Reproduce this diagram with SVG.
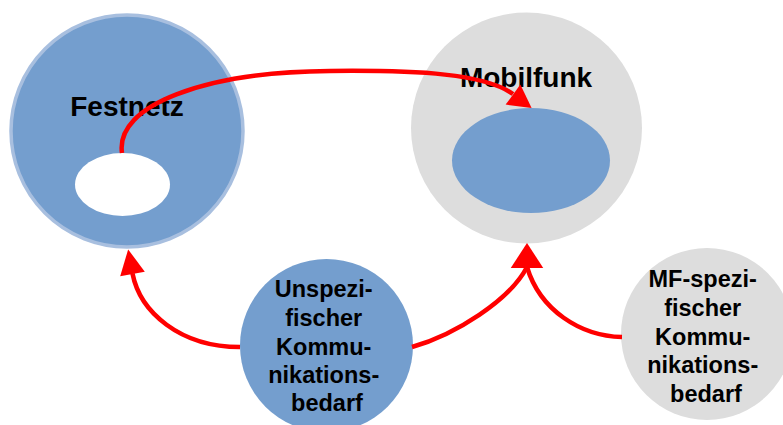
<svg xmlns="http://www.w3.org/2000/svg" xmlns:xlink="http://www.w3.org/1999/xlink" width="783" height="425" viewBox="0 0 783 425">
<style>
  .blue { fill: #749ECE; }
  .gray { fill: #DDDDDD; }
  .white { fill: #FFFFFF; }
  .title { font-family: "Liberation Sans", Arial, sans-serif; font-weight: bold; font-size: 28px; fill: #000; text-anchor: middle; }
  .label { font-family: "Liberation Sans", Arial, sans-serif; font-weight: bold; font-size: 23.5px; fill: #000; text-anchor: middle; }
  .conn { fill: none; stroke: #FF0000; stroke-width: 4.5; }
  .head { fill: #FF0000; }
</style>
<defs>
  <path id="ah" d="M0,-12.5 L25,0 L0,12.5 Z"/>
</defs>
<rect width="783" height="425" fill="#FFFFFF"/>

<g id="festnetz">
  <circle cx="127" cy="131" r="116" class="blue" stroke="#A8BFDF" stroke-width="3.5"/>
  <ellipse cx="122.5" cy="184.5" rx="47.5" ry="31.5" class="white"/>
  <text x="127" y="116" class="title">Festnetz</text>
</g>

<g id="mobilfunk">
  <circle cx="526.5" cy="128" r="115.5" class="gray"/>
  <ellipse cx="531" cy="160.5" rx="79" ry="52.5" class="blue"/>
  <text x="526" y="87" class="title">Mobilfunk</text>
</g>

<g id="unspezifisch">
  <circle cx="326.5" cy="345.5" r="86.5" class="blue"/>
  <text class="label">
    <tspan x="327" y="297">Unspezi-</tspan>
    <tspan x="327" y="326">fischer</tspan>
    <tspan x="327" y="355">Kommu-</tspan>
    <tspan x="327" y="383">nikations-</tspan>
    <tspan x="327" y="411">bedarf</tspan>
  </text>
</g>

<g id="mf-spezifisch">
  <circle cx="707" cy="334" r="86" class="gray"/>
  <text class="label">
    <tspan x="706" y="287">MF-spezi-</tspan>
    <tspan x="706" y="316">fischer</tspan>
    <tspan x="706" y="345">Kommu-</tspan>
    <tspan x="706" y="373">nikations-</tspan>
    <tspan x="706" y="402">bedarf</tspan>
  </text>
</g>

<g id="connectors">
  <path class="conn" d="M122,153 C115,105 205,72 330,71 C420,70 485,74 513,94"/>
  <use xlink:href="#ah" class="head" transform="translate(513,94.5) rotate(36) scale(0.92,1)"/>
  <path class="conn" d="M240,347 C180,347 140,312 132.5,273.5"/>
  <use xlink:href="#ah" class="head" transform="translate(132.5,274) rotate(-100)"/>
  <path class="conn" d="M412,347 C455,335 510,300 527,267"/>
  <path class="conn" d="M622,337 C580,336 540,310 527,267"/>
  <use xlink:href="#ah" class="head" transform="translate(527,268) rotate(-90) scale(1,1.3)"/>
</g>
</svg>
